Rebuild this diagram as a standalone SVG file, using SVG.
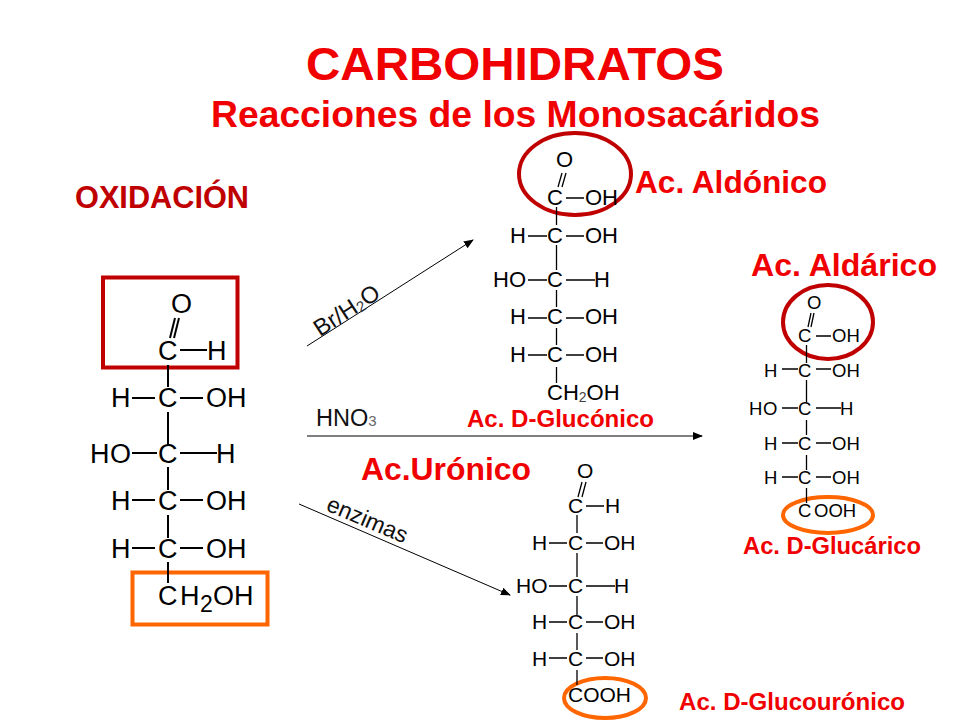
<svg xmlns="http://www.w3.org/2000/svg" width="960" height="720" viewBox="0 0 960 720">
<defs>
<marker id="ah" markerUnits="userSpaceOnUse" markerWidth="10" markerHeight="8" refX="9" refY="4" orient="auto"><path d="M0 0L10 4L0 8Z" fill="#000"/></marker>
</defs>
<style>
text{font-family:"Liberation Sans",Arial,sans-serif}
.t{fill:#f00000;font-weight:bold}
.f{fill:#000}
.a{font-size:27px}.b{font-size:22px}.c{font-size:18.500px}.d{font-size:21px}
.l{stroke:#000;fill:none}
.la{stroke-width:2}.lb{stroke-width:1.3}
.lc{stroke:#000;stroke-width:1;fill:none}
.red{fill:none;stroke:#c00000;stroke-width:4}
.org{fill:none;stroke:#ff6600;stroke-width:4}
</style>
<rect width="960" height="720" fill="#fff"/>
<g id="titles">
<text class="t" x="306" y="80" font-size="47" textLength="418" lengthAdjust="spacingAndGlyphs">CARBOHIDRATOS</text>
<text class="t" x="211" y="127" font-size="37" textLength="609" lengthAdjust="spacingAndGlyphs">Reacciones de los Monosacáridos</text>
<text x="75" y="208" font-size="31" font-weight="bold" fill="#c00000" textLength="174" lengthAdjust="spacingAndGlyphs">OXIDACIÓN</text>
<text class="t" x="635" y="193" font-size="31.500" textLength="192" lengthAdjust="spacingAndGlyphs">Ac. Aldónico</text>
<text class="t" x="751" y="276" font-size="32" textLength="186" lengthAdjust="spacingAndGlyphs">Ac. Aldárico</text>
<text class="t" x="467" y="427" font-size="24" textLength="187" lengthAdjust="spacingAndGlyphs">Ac. D-Glucónico</text>
<text class="t" x="361" y="480" font-size="32" textLength="170" lengthAdjust="spacingAndGlyphs">Ac.Urónico</text>
<text class="t" x="743" y="554" font-size="23.500" textLength="178" lengthAdjust="spacingAndGlyphs">Ac. D-Glucárico</text>
<text class="t" x="679" y="710" font-size="24.500" textLength="226" lengthAdjust="spacingAndGlyphs">Ac. D-Glucourónico</text>
</g>
<g id="connectors">
<path class="lc" marker-end="url(#ah)" d="M307 346L473 240"/>
<path class="lc" marker-end="url(#ah)" d="M307 436L702 436"/>
<path class="lc" marker-end="url(#ah)" d="M299 504L510 595"/>
<text transform="translate(320 337) rotate(-33)" font-size="23.500" fill="#111">Br/H<tspan font-size="15" dy="2" fill="#333">2</tspan><tspan dy="-2">O</tspan></text>
<text x="316" y="426" font-size="23.500" fill="#111">HNO<tspan font-size="15" fill="#666">3</tspan></text>
<text transform="translate(325 510) rotate(23)" font-size="23" fill="#111">enzimas</text>
</g>
<g id="glucose">
<rect class="red" x="103" y="277.500" width="134.500" height="90"/>
<rect class="org" x="132.500" y="572.500" width="135" height="52"/>
<path class="l la" d="M168 365V387M168 412V445M168 467V490M168 515V538M168 562V583M170 338L175 318M174 338L179 318M180 350H207M132 398H155M180 398H203M132 453H157M180 453H217M132 500H155M180 500H203M132 548H155M180 548H203"/>
<g class="f a">
<text x="171" y="313">O</text><text x="158" y="360">C</text><text x="207" y="360">H</text>
<text x="111" y="407">H</text><text x="158" y="407">C</text><text x="206" y="407">OH</text>
<text x="90" y="463">H</text><text x="110" y="463">O</text><text x="158" y="463">C</text><text x="216" y="463">H</text>
<text x="111" y="510">H</text><text x="158" y="510">C</text><text x="206" y="510">OH</text>
<text x="111" y="558">H</text><text x="158" y="558">C</text><text x="206" y="558">OH</text>
<text x="158" y="605">C</text><text x="180" y="605">H</text><text x="200" y="612" font-size="23">2</text><text x="213" y="605">OH</text>
</g>
</g>
<g id="gluconico">
<ellipse class="red" cx="575" cy="174" rx="56" ry="41"/>
<path class="l lb" d="M556.500 207V225M556.500 245V270M556.500 290V307M556.500 328V345M556.500 367V383M558 187L562 173M562 187L566 173M566 198H584M528 236H547M566 236H584M528 280H547M566 280H595M528 318H547M566 318H584M528 355H547M566 355H584"/>
<g class="f b">
<text x="556" y="167">O</text><text x="547" y="205">C</text><text x="585" y="205">OH</text>
<text x="510" y="243">H</text><text x="547" y="243">C</text><text x="585" y="243">OH</text>
<text x="493" y="287">HO</text><text x="547" y="287">C</text><text x="594" y="287">H</text>
<text x="510" y="324">H</text><text x="547" y="324">C</text><text x="585" y="324">OH</text>
<text x="510" y="362">H</text><text x="547" y="362">C</text><text x="585" y="362">OH</text>
<text x="547" y="400">CH<tspan font-size="14" dy="2" fill="#444">2</tspan><tspan dy="-2">OH</tspan></text>
</g>
</g>
<g id="glucarico">
<ellipse class="red" cx="828" cy="322" rx="45" ry="37"/>
<ellipse class="org" cx="828" cy="515" rx="45" ry="18"/>
<path class="l lb" d="M806.500 345V363M806.500 380V402M806.500 420V435M806.500 455V470M806.500 488V503M808 327L811 313M811 327L814 313M816 336H831M782 369H798M816 369H831M782 408H798M816 408H841M782 443H798M816 443H831M782 477H798M816 477H831"/>
<g class="f c">
<text x="807" y="309">O</text><text x="798" y="342">C</text><text x="832" y="342">OH</text>
<text x="764" y="377">H</text><text x="798" y="377">C</text><text x="832" y="377">OH</text>
<text x="749" y="415">H</text><text x="763" y="415">O</text><text x="798" y="415">C</text><text x="840" y="415">H</text>
<text x="764" y="450">H</text><text x="798" y="450">C</text><text x="832" y="450">OH</text>
<text x="764" y="484">H</text><text x="798" y="484">C</text><text x="832" y="484">OH</text>
<text x="798" y="517">C</text><text x="814" y="517">OOH</text>
</g>
</g>
<g id="glucouronico">
<ellipse class="org" cx="605" cy="698" rx="41" ry="20"/>
<path class="l lb" d="M577 515V533M577 553V577M577 596V615M577 633V650M577 670V685M578 497L582 482M582 497L586 482M586 506H604M549 543H567M586 543H603M549 586H567M586 586H615M549 622H567M586 622H603M549 658H567M586 658H603"/>
<g class="f d">
<text x="577" y="478">O</text><text x="568" y="513">C</text><text x="605" y="513">H</text>
<text x="532" y="550">H</text><text x="568" y="550">C</text><text x="604" y="550">OH</text>
<text x="516" y="593">HO</text><text x="568" y="593">C</text><text x="614" y="593">H</text>
<text x="532" y="629">H</text><text x="568" y="629">C</text><text x="604" y="629">OH</text>
<text x="532" y="666">H</text><text x="568" y="666">C</text><text x="604" y="666">OH</text>
<text x="568" y="702">COOH</text>
</g>
</g>
</svg>
